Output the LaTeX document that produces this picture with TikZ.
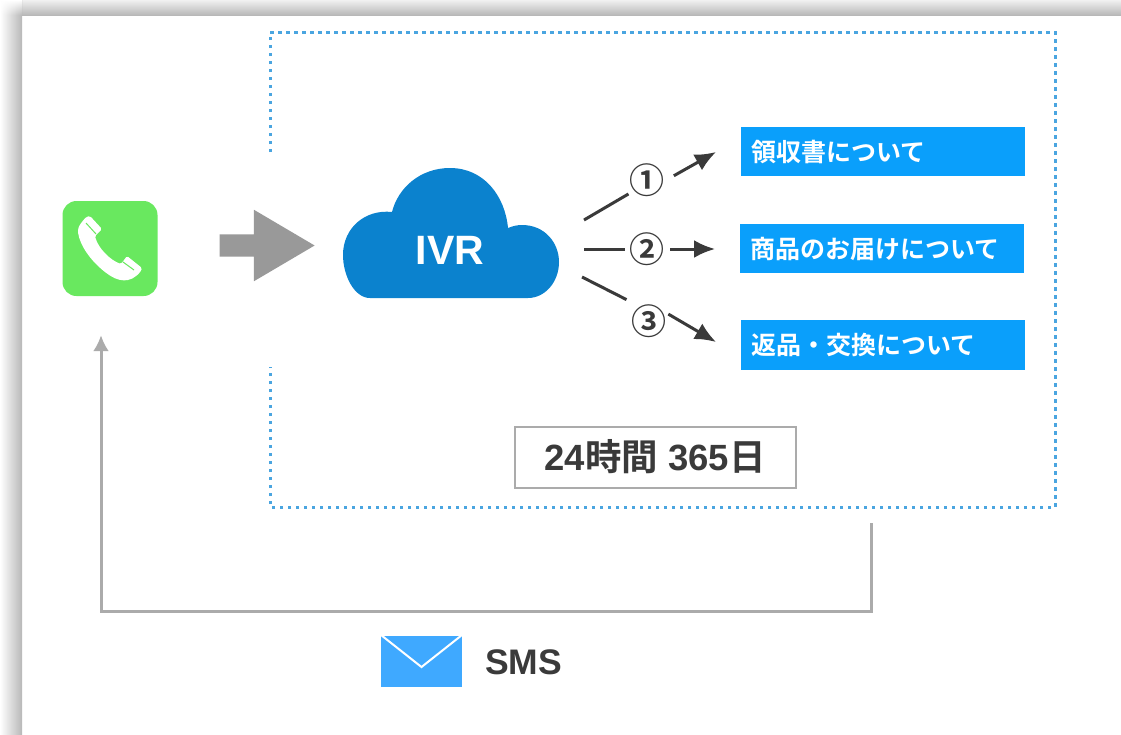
\documentclass[tikz,border=0pt]{standalone}
\usepackage{fontspec}
\setmainfont{Liberation Sans}
\newfontfamily\jpfont{Noto Sans CJK JP}[BoldFont={* Bold}]
\usetikzlibrary{arrows.meta,shapes.arrows,fadings}
\definecolor{dotblue}{HTML}{4AA5E0}
\definecolor{menublue}{HTML}{0A9FFB}
\definecolor{cloudblue}{HTML}{0B82CE}
\definecolor{mailblue}{HTML}{3FA9FF}
\definecolor{phonegreen}{HTML}{69E85F}
\definecolor{inkgray}{HTML}{3A3A3A}
\definecolor{linegray}{HTML}{ABABAB}
\definecolor{blockgray}{HTML}{999999}
\definecolor{shadowgray}{HTML}{B8B8B8}
\begin{document}
\begin{tikzpicture}[x=1pt,y=-1pt,
            menu node/.style={rectangle,fill=menublue,text=white,minimum height=49.5pt,
                text width=264pt,inner xsep=10pt,inner ysep=0pt,font=\jpfont\bfseries\fontsize{25}{25}\selectfont},
            number node/.style={circle,inner sep=0pt,minimum size=54pt,text=inkgray,
                font=\jpfont\bfseries\fontsize{35}{35}\selectfont},
            branch/.style={draw=inkgray,line width=3pt},
            branch arrow/.style={branch,-{Latex[length=21pt,width=18pt]}},
            sms line/.style={draw=linegray,line width=3pt,-{Latex[length=16pt,width=16pt]}}]
        \useasboundingbox (0,0) rectangle (1121,734);

        % Page edge
        \fill[white] (0,0) rectangle (1121,734);
        \shade[top color=shadowgray!20,bottom color=shadowgray] (0,0) rectangle (1121,15);
        \shade[left color=white,right color=shadowgray] (0,0) rectangle (22,734);
        \fill[white,path fading=south] (0,0) rectangle (22,15);

        % Cloud
        \fill[cloudblue] (370,298) .. controls (354,298) and (343,275) .. (343,255)
            .. controls (343,228) and (365,209) .. (392,212)
            .. controls (398,188) and (420,168) .. (450,168)
            .. controls (484,168) and (505,196) .. (508,228)
            .. controls (513,226) and (517,225) .. (522,225)
            .. controls (545,225) and (559,243) .. (559,262)
            .. controls (559,282) and (545,298) .. (528,298) -- cycle;

        % Define vertices
        \node[rectangle,rounded corners=14pt,fill=phonegreen,minimum size=95pt,inner sep=0pt] (phone) at (110,248.5) {};
        \node[shape=single arrow,fill=blockgray,inner xsep=0pt,inner ysep=11pt,minimum height=95pt,
            single arrow head extend=24.5pt,single arrow tip angle=61,anchor=tip] (go) at (315,245.5) {};
        \node[inner sep=0pt,text=white,font=\bfseries\fontsize{41}{41}\selectfont] (ivr) at (450,250) {IVR};
        \node[menu node] (box1) at (883,151.5) {領収書について};
        \node[menu node] (box2) at (882,248.5) {商品のお届けについて};
        \node[menu node] (box3) at (883,345) {返品・交換について};
        \node[number node] (n1) at (647,180) {①};
        \node[number node] (n2) at (647,249) {②};
        \node[number node] (n3) at (649,321) {③};
        \node[rectangle,draw=linegray,line width=2pt,minimum width=281pt,minimum height=61pt,inner sep=0pt,
            text=inkgray,font=\bfseries\fontsize{36.5}{36.5}\selectfont] (hours) at (655,457) {24{\jpfont 時間} 365{\jpfont 日}};
        \node[rectangle,fill=mailblue,minimum width=81pt,minimum height=51pt,inner sep=0pt] (mail) at (421.5,661.5) {};
        \node[inner sep=0pt,text=inkgray,font=\bfseries\fontsize{35.5}{35.5}\selectfont] (sms) at (523.5,662) {SMS};

        % Handset and envelope flap
        \fill[white,rounded corners=1.5pt] (78,232) .. controls (78,226) and (82,222) .. (86,217)
            -- (90,216) -- (102,229) -- (95,236)
            .. controls (98,248) and (110,260) .. (121,264)
            -- (127,256) -- (142,268) -- (141,271)
            .. controls (130,284) and (118,282) .. (105,272)
            .. controls (90,260) and (80,245) .. (78,232) -- cycle;
        \draw[phonegreen,line width=1pt] (86,223) -- (96,234) (123,262) -- (134,270);
        \draw[white,line width=2pt] (381,635) -- (421.5,667) -- (462,635);

        % Dotted frame
        \coordinate (frame start) at (270,152);
        \coordinate (frame end) at (270,367);
        \draw[dotblue,line width=3pt,dash pattern=on 3.5pt off 4.5pt]
            (frame start) -- (270,32) -- (1055,32) -- (1055,507) -- (270,507) -- (frame end);

        % Draw edges
        \coordinate (s1) at (584,220);
        \coordinate (s2) at (584,249);
        \coordinate (s3) at (582,277);
        \coordinate (e1) at (716,152);
        \coordinate (e2) at (715,249);
        \coordinate (e3) at (716,342);
        \coordinate (sms start) at (871,523);
        \path
            (s1) edge[branch,shorten >=-4pt] (n1.216)
            (s2) edge[branch,shorten >=-5pt] (n2.180)
            (s3) edge[branch,shorten >=4pt] (n3.134)
            (n1.9) edge[branch arrow] (e1)
            (n2.0) edge[branch arrow,shorten <=-4pt] (e2)
            (n3.5) edge[branch arrow,shorten <=-9pt] (e3);
        \draw[sms line,shorten >=39pt] (sms start) -- (871,611) -- (101,611) -- ([xshift=-9pt]phone.south);
    \end{tikzpicture}
\end{document}
